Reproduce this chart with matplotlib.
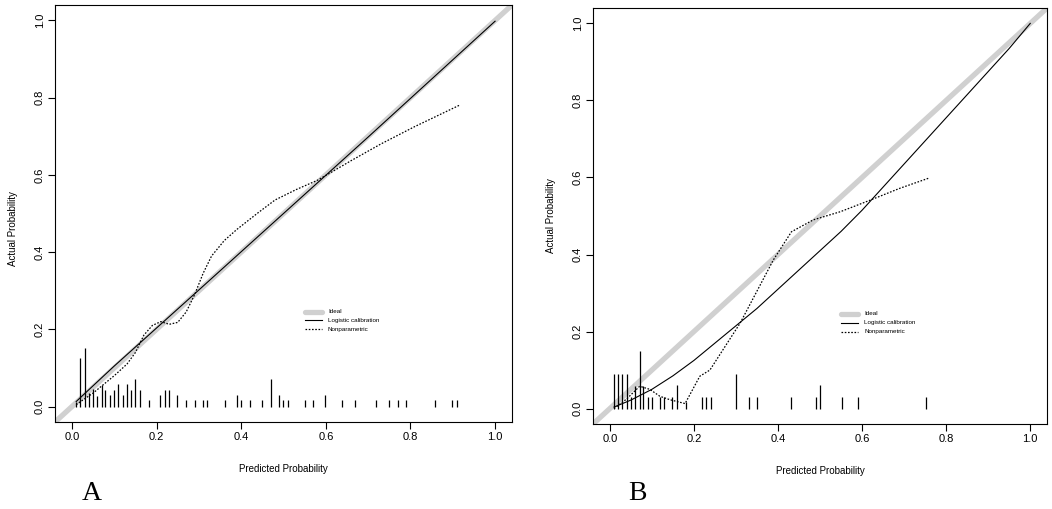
import numpy as np
import matplotlib
matplotlib.use("Agg")
import matplotlib.pyplot as plt

# ---- data ----
ticks = [0.0, 0.2, 0.4, 0.6, 0.8, 1.0]
tick_labels = ["0.0", "0.2", "0.4", "0.6", "0.8", "1.0"]
legend_labels = ["Ideal", "Logistic calibration", "Nonparametric"]

# panel A
a_logit_x = [0.01, 0.1, 0.3, 0.5, 0.7, 0.9, 1.0]
a_logit_y = [0.013, 0.105, 0.302, 0.5, 0.698, 0.898, 0.998]
a_np_x = [0.01, 0.05, 0.1, 0.13, 0.15, 0.17, 0.19, 0.21, 0.23, 0.25, 0.27, 0.29, 0.31,
          0.33, 0.36, 0.39, 0.44, 0.48, 0.53, 0.58, 0.61, 0.66, 0.73, 0.81, 0.915]
a_np_y = [0.005, 0.035, 0.08, 0.11, 0.14, 0.185, 0.21, 0.22, 0.213, 0.218, 0.245, 0.29, 0.345,
          0.39, 0.43, 0.459, 0.502, 0.535, 0.562, 0.586, 0.605, 0.637, 0.68, 0.725, 0.78]
a_rug_x = [0.009, 0.02, 0.031, 0.041, 0.05, 0.06, 0.07, 0.079, 0.09, 0.099, 0.109,
           0.12, 0.129, 0.139, 0.149, 0.16, 0.181, 0.209, 0.219, 0.229, 0.249, 0.269,
           0.29, 0.31, 0.32, 0.361, 0.39, 0.40, 0.42, 0.45, 0.47, 0.489, 0.499, 0.51,
           0.55, 0.57, 0.598, 0.639, 0.669, 0.719, 0.749, 0.77, 0.789, 0.858, 0.899, 0.909]
a_rug_h = [0.013, 0.125, 0.152, 0.036, 0.045, 0.028, 0.056, 0.043, 0.029, 0.043, 0.058,
           0.029, 0.058, 0.043, 0.072, 0.043, 0.016, 0.029, 0.043, 0.043, 0.029, 0.016,
           0.016, 0.016, 0.016, 0.016, 0.029, 0.016, 0.016, 0.016, 0.072, 0.029, 0.016, 0.016,
           0.016, 0.016, 0.029, 0.016, 0.016, 0.016, 0.016, 0.016, 0.016, 0.016, 0.016, 0.016]

# panel B
b_logit_x = [0.01, 0.05, 0.1, 0.15, 0.2, 0.25, 0.3, 0.35, 0.4, 0.45, 0.5, 0.55, 0.6,
             0.65, 0.7, 0.75, 0.8, 0.85, 0.9, 0.95, 1.0]
b_logit_y = [0.004, 0.022, 0.05, 0.085, 0.125, 0.17, 0.215, 0.26, 0.31, 0.36, 0.41, 0.46,
             0.515, 0.575, 0.635, 0.695, 0.755, 0.815, 0.875, 0.935, 1.0]
b_np_x = [0.01, 0.04, 0.071, 0.095, 0.119, 0.143, 0.179, 0.214, 0.238, 0.31, 0.389,
          0.432, 0.484, 0.548, 0.619, 0.69, 0.758]
b_np_y = [0.0, 0.025, 0.058, 0.05, 0.032, 0.023, 0.013, 0.084, 0.1, 0.222, 0.386,
          0.459, 0.49, 0.511, 0.541, 0.572, 0.598]
b_rug_x = [0.009, 0.019, 0.029, 0.04, 0.05, 0.06, 0.071, 0.08, 0.09, 0.1, 0.119, 0.129,
           0.149, 0.16, 0.181, 0.219, 0.229, 0.24, 0.299, 0.332, 0.351, 0.431, 0.49, 0.5,
           0.552, 0.59, 0.751]
b_rug_h = [0.09, 0.09, 0.09, 0.09, 0.029, 0.058, 0.15, 0.058, 0.029, 0.029, 0.029, 0.029,
           0.029, 0.06, 0.016, 0.029, 0.029, 0.029, 0.09, 0.029, 0.029, 0.029, 0.029, 0.06,
           0.029, 0.029, 0.029]

plt.rcParams["font.family"] = ["Liberation Sans", "DejaVu Sans"]

fig = plt.figure(figsize=(10.52, 5.09), dpi=100)
ax_a = fig.add_axes([0.0523, 0.1709, 0.4344, 0.8193])
ax_b = fig.add_axes([0.5637, 0.1670, 0.4316, 0.8173])

panels = [
    (ax_a, a_logit_x, a_logit_y, a_np_x, a_np_y, a_rug_x, a_rug_h, 0.465),
    (ax_b, b_logit_x, b_logit_y, b_np_x, b_np_y, b_rug_x, b_rug_h, 0.5),
]

for ax, lx, ly, nx, ny, rx, rh, ylab_pos in panels:
    ax.set_xlim(-0.04, 1.04)
    ax.set_ylim(-0.04, 1.04)

    # ideal diagonal across the whole plot
    ax.axline((0, 0), (1, 1), color="#d0d0d0", lw=3.8, solid_capstyle="butt", zorder=1)
    # spike histogram of predicted probabilities
    ax.vlines(rx, 0, rh, color="black", lw=0.9, zorder=2)
    ax.plot(lx, ly, color="black", lw=0.8, zorder=3)
    ax.plot(nx, ny, color="black", lw=0.9, linestyle=(0, (1.3, 1.3)), zorder=3)

    # legend drawn inside the data area, R style
    leg_y = [0.246, 0.223, 0.200]
    ax.plot([0.55, 0.59], [leg_y[0]] * 2, color="#d0d0d0", lw=3.8, solid_capstyle="round")
    ax.plot([0.55, 0.59], [leg_y[1]] * 2, color="black", lw=0.8)
    ax.plot([0.55, 0.59], [leg_y[2]] * 2, color="black", lw=0.9, linestyle=(0, (1.3, 1.3)))
    for yy, lab in zip(leg_y, legend_labels):
        ax.text(0.605, yy, lab, fontsize=4.5, va="center", ha="left")

    ax.set_xticks(ticks)
    ax.set_xticklabels(tick_labels)
    ax.set_yticks(ticks)
    ax.set_yticklabels(tick_labels, rotation=90, va="center")
    ax.tick_params(direction="out", length=5, width=0.8, labelsize=8, pad=2.5)
    for sp in ax.spines.values():
        sp.set_linewidth(0.8)

    ax.set_xlabel("Predicted Probability", fontsize=7)
    ax.set_ylabel("Actual Probability", fontsize=7)
    ax.xaxis.set_label_coords(0.5, -0.10)
    ax.yaxis.set_label_coords(-0.081, ylab_pos)

fig.text(92 / 1052, 1 - 500 / 509, "A", fontsize=20, family="Liberation Serif",
         ha="center", va="baseline")
fig.text(637 / 1052, 1 - 500 / 509, "B", fontsize=20, family="Liberation Serif",
         ha="center", va="baseline")

fig.savefig("out.png", dpi=100)
